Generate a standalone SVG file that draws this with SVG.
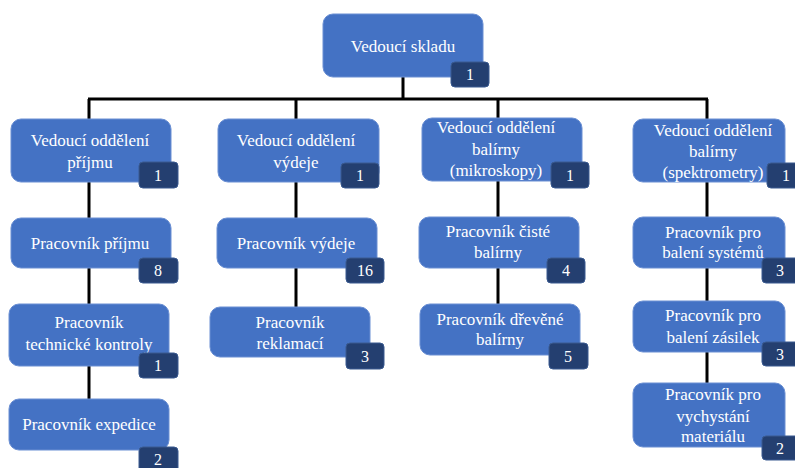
<svg xmlns="http://www.w3.org/2000/svg" width="795" height="468" viewBox="0 0 795 468">
<style>
.b{fill:#4472C4;stroke:#6A8FD3;stroke-width:1}
.g{fill:#243F70;stroke:#3A5A90;stroke-width:1}
.c{stroke:#000;stroke-width:3;fill:none}
</style>
<rect width="795" height="468" fill="#fff"/>
<g id="connectors">
<path class="c" d="M403 77V99M88 99H708M89 99V399M296 99V307M498 99V304M707 99V383"/>
</g>
<g id="n0"><rect class="b" x="323" y="14" width="160" height="63" rx="10"/><text font-family="Liberation Serif" font-size="17" fill="#fff" text-anchor="middle" x="403" y="52">Vedoucí skladu</text><rect class="g" x="451" y="62" width="38" height="25" rx="4"/><text font-family="Liberation Serif" font-size="16" fill="#fff" text-anchor="middle" x="470" y="80">1</text></g>
<g id="n1"><rect class="b" x="11" y="119" width="160" height="63" rx="10"/><text font-family="Liberation Serif" font-size="17" fill="#fff" text-anchor="middle" x="90" y="146">Vedoucí oddělení</text><text font-family="Liberation Serif" font-size="17" fill="#fff" text-anchor="middle" x="90" y="168">příjmu</text><rect class="g" x="139" y="162" width="39" height="26" rx="4"/><text font-family="Liberation Serif" font-size="16" fill="#fff" text-anchor="middle" x="158" y="181">1</text></g>
<g id="n2"><rect class="b" x="11" y="218" width="160" height="50" rx="10"/><text font-family="Liberation Serif" font-size="17" fill="#fff" text-anchor="middle" x="90" y="249">Pracovník příjmu</text><rect class="g" x="139" y="258" width="39" height="25" rx="4"/><text font-family="Liberation Serif" font-size="16" fill="#fff" text-anchor="middle" x="158" y="276">8</text></g>
<g id="n3"><rect class="b" x="9" y="304" width="160" height="62" rx="10"/><text font-family="Liberation Serif" font-size="17" fill="#fff" text-anchor="middle" x="89" y="328">Pracovník</text><text font-family="Liberation Serif" font-size="17" fill="#fff" text-anchor="middle" x="89" y="350">technické kontroly</text><rect class="g" x="139" y="353" width="39" height="25" rx="4"/><text font-family="Liberation Serif" font-size="16" fill="#fff" text-anchor="middle" x="158" y="371">1</text></g>
<g id="n4"><rect class="b" x="9" y="399" width="160" height="51" rx="10"/><text font-family="Liberation Serif" font-size="17" fill="#fff" text-anchor="middle" x="89" y="430">Pracovník expedice</text><rect class="g" x="139" y="447" width="39" height="25" rx="4"/><text font-family="Liberation Serif" font-size="16" fill="#fff" text-anchor="middle" x="158" y="465">2</text></g>
<g id="n5"><rect class="b" x="218" y="119" width="161" height="63" rx="10"/><text font-family="Liberation Serif" font-size="17" fill="#fff" text-anchor="middle" x="296" y="146">Vedoucí oddělení</text><text font-family="Liberation Serif" font-size="17" fill="#fff" text-anchor="middle" x="296" y="168">výdeje</text><rect class="g" x="341" y="163" width="38" height="25" rx="4"/><text font-family="Liberation Serif" font-size="16" fill="#fff" text-anchor="middle" x="360" y="181">1</text></g>
<g id="n6"><rect class="b" x="217" y="218" width="160" height="50" rx="10"/><text font-family="Liberation Serif" font-size="17" fill="#fff" text-anchor="middle" x="296" y="249">Pracovník výdeje</text><rect class="g" x="346" y="258" width="38" height="25" rx="4"/><text font-family="Liberation Serif" font-size="16" fill="#fff" text-anchor="middle" x="365" y="276">16</text></g>
<g id="n7"><rect class="b" x="210" y="307" width="160" height="50" rx="10"/><text font-family="Liberation Serif" font-size="17" fill="#fff" text-anchor="middle" x="290" y="328">Pracovník</text><text font-family="Liberation Serif" font-size="17" fill="#fff" text-anchor="middle" x="290" y="349">reklamací</text><rect class="g" x="346" y="343" width="38" height="26" rx="4"/><text font-family="Liberation Serif" font-size="16" fill="#fff" text-anchor="middle" x="365" y="362">3</text></g>
<g id="n8"><rect class="b" x="422" y="118" width="160" height="63" rx="10"/><text font-family="Liberation Serif" font-size="17" fill="#fff" text-anchor="middle" x="496" y="133">Vedoucí oddělení</text><text font-family="Liberation Serif" font-size="17" fill="#fff" text-anchor="middle" x="496" y="155">balírny</text><text font-family="Liberation Serif" font-size="17" fill="#fff" text-anchor="middle" x="496" y="176">(mikroskopy)</text><rect class="g" x="551" y="162" width="38" height="26" rx="4"/><text font-family="Liberation Serif" font-size="16" fill="#fff" text-anchor="middle" x="570" y="181">1</text></g>
<g id="n9"><rect class="b" x="419" y="217" width="160" height="51" rx="10"/><text font-family="Liberation Serif" font-size="17" fill="#fff" text-anchor="middle" x="498" y="237">Pracovník čisté</text><text font-family="Liberation Serif" font-size="17" fill="#fff" text-anchor="middle" x="498" y="258">balírny</text><rect class="g" x="547" y="258" width="38" height="25" rx="4"/><text font-family="Liberation Serif" font-size="16" fill="#fff" text-anchor="middle" x="566" y="276">4</text></g>
<g id="n10"><rect class="b" x="420" y="304" width="160" height="51" rx="10"/><text font-family="Liberation Serif" font-size="17" fill="#fff" text-anchor="middle" x="500" y="325">Pracovník dřevěné</text><text font-family="Liberation Serif" font-size="17" fill="#fff" text-anchor="middle" x="500" y="345">balírny</text><rect class="g" x="549" y="343" width="39" height="26" rx="4"/><text font-family="Liberation Serif" font-size="16" fill="#fff" text-anchor="middle" x="568" y="362">5</text></g>
<g id="n11"><rect class="b" x="633" y="119" width="152" height="63" rx="10"/><text font-family="Liberation Serif" font-size="17" fill="#fff" text-anchor="middle" x="713" y="136">Vedoucí oddělení</text><text font-family="Liberation Serif" font-size="17" fill="#fff" text-anchor="middle" x="713" y="157">balírny</text><text font-family="Liberation Serif" font-size="17" fill="#fff" text-anchor="middle" x="713" y="178">(spektrometry)</text><rect class="g" x="767" y="163" width="38" height="25" rx="4"/><text font-family="Liberation Serif" font-size="16" fill="#fff" text-anchor="middle" x="786" y="181">1</text></g>
<g id="n12"><rect class="b" x="633" y="217" width="152" height="51" rx="10"/><text font-family="Liberation Serif" font-size="17" fill="#fff" text-anchor="middle" x="713" y="238">Pracovník pro</text><text font-family="Liberation Serif" font-size="17" fill="#fff" text-anchor="middle" x="713" y="258">balení systémů</text><rect class="g" x="762" y="258" width="38" height="25" rx="4"/><text font-family="Liberation Serif" font-size="16" fill="#fff" text-anchor="middle" x="780" y="276">3</text></g>
<g id="n13"><rect class="b" x="633" y="301" width="152" height="51" rx="10"/><text font-family="Liberation Serif" font-size="17" fill="#fff" text-anchor="middle" x="713" y="321">Pracovník pro</text><text font-family="Liberation Serif" font-size="17" fill="#fff" text-anchor="middle" x="713" y="343">balení zásilek</text><rect class="g" x="762" y="342" width="38" height="24" rx="4"/><text font-family="Liberation Serif" font-size="16" fill="#fff" text-anchor="middle" x="780" y="360">3</text></g>
<g id="n14"><rect class="b" x="633" y="383" width="152" height="64" rx="10"/><text font-family="Liberation Serif" font-size="17" fill="#fff" text-anchor="middle" x="713" y="400">Pracovník pro</text><text font-family="Liberation Serif" font-size="17" fill="#fff" text-anchor="middle" x="713" y="422">vychystání</text><text font-family="Liberation Serif" font-size="17" fill="#fff" text-anchor="middle" x="713" y="442">materiálu</text><rect class="g" x="762" y="436" width="38" height="24" rx="4"/><text font-family="Liberation Serif" font-size="16" fill="#fff" text-anchor="middle" x="780" y="454">2</text></g>
</svg>
